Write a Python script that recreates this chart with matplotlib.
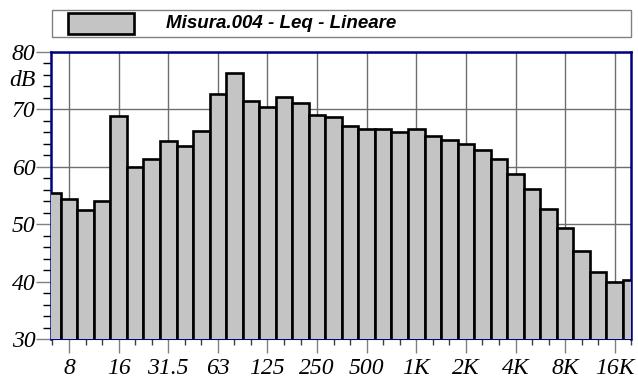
#!/usr/bin/env python3
# -*- coding: utf-8 -*-
import matplotlib
matplotlib.use('Agg') # 디스플레이 없이 파일로 저장합니다.
from matplotlib import pyplot as plt # 그래프 그리기
from matplotlib import font_manager as fm # 글꼴 파일 찾기
from matplotlib.patches import Rectangle # 범례 상자용 사각형
from matplotlib.transforms import blended_transform_factory

# 1/3 옥타브 대역 중심 주파수 (Hz)
BANDS = ['6.3', '8', '10', '12.5', '16', '20', '25', '31.5', '40', '50',
         '63', '80', '100', '125', '160', '200', '250', '315', '400', '500',
         '630', '800', '1K', '1.25K', '1.6K', '2K', '2.5K', '3.15K', '4K', '5K',
         '6.3K', '8K', '10K', '12.5K', '16K', '20K']
# 각 대역의 Leq 값 (dB, 선형)
LEQ = [55.4, 54.4, 52.4, 54.1, 68.8, 60.0, 61.3, 64.5, 63.6, 66.2,
       72.6, 76.3, 71.5, 70.5, 72.1, 71.1, 69.0, 68.6, 67.1, 66.5,
       66.6, 66.1, 66.5, 65.3, 64.6, 63.9, 62.9, 61.3, 58.8, 56.1,
       52.7, 49.3, 45.3, 41.6, 39.9, 40.2]
# 눈금 라벨을 붙일 옥타브 대역
OCTAVE_LABELS = ['8', '16', '31.5', '63', '125', '250', '500', '1K', '2K', '4K', '8K', '16K']
Y_TICKS = [30, 40, 50, 60, 70, 80]
LEGEND_TEXT = 'Misura.004 - Leq - Lineare'

BAR_FILL = '#c4c4c4' # 막대 채움색 (회색 점무늬 느낌)
NAVY = '#000080' # 축 테두리 색
LABEL_SIZE = 17

def find_italic_serif():
    # Times 계열 이탤릭 글꼴 파일을 직접 찾습니다.
    for name in ['Liberation Serif', 'FreeSerif']:
        for f in fm.fontManager.ttflist:
            if f.name == name and f.style == 'italic' and f.weight in (400, 'normal', 'regular'):
                return fm.FontProperties(fname=f.fname, size=LABEL_SIZE)
    return fm.FontProperties(family='serif', style='italic', size=LABEL_SIZE)

tick_font = find_italic_serif()

fig = plt.figure(figsize=(6.38, 3.78), dpi=100)
ax = fig.add_axes([0.0799, 0.1032, 0.9096, 0.7592])

x = list(range(len(BANDS)))
ax.bar(x, LEQ, width=1.0, color=BAR_FILL, edgecolor='black',
       linewidth=1.9, zorder=3)

ax.set_xlim(-0.09, 34.98)
ax.set_ylim(30, 80)

# 옥타브 위치 (주 눈금)와 모든 대역 (보조 눈금)
octave_pos = [BANDS.index(b) for b in OCTAVE_LABELS]
ax.set_xticks(octave_pos)
ax.set_xticks([i for i in x if i not in octave_pos], minor=True)
ax.set_yticks(Y_TICKS)
ax.set_yticks([v for v in range(32, 80, 2) if v % 10 != 0], minor=True)

# 격자: 옥타브 세로선과 10 dB 가로선
ax.grid(True, which='major', color='#6e6e6e', linewidth=1.0, zorder=0)
ax.set_axisbelow(True)

ax.tick_params(axis='x', which='major', length=10, width=1, color='#808080',
               direction='out', pad=4)
ax.tick_params(axis='x', which='minor', length=4.5, width=1, color='#404040',
               direction='out')
ax.tick_params(axis='y', which='major', length=11, width=1, color='#808080',
               direction='out', pad=0)
ax.tick_params(axis='y', which='minor', length=6, width=1, color='black',
               direction='out')

ax.set_xticklabels(OCTAVE_LABELS)
ax.set_yticklabels([str(v) for v in Y_TICKS])

# 'dB' 단위 표시는 75 dB 위치에
trans = blended_transform_factory(ax.transAxes, ax.transData)
db_label = ax.text(-0.026, 75, 'dB', transform=trans, ha='right', va='center')

# 축 테두리
for side in ['left', 'top', 'right']:
    ax.spines[side].set_color(NAVY)
    ax.spines[side].set_linewidth(1.8)
ax.spines['bottom'].set_color(NAVY)
ax.spines['bottom'].set_linewidth(0.8)

# 위쪽 범례 상자
fig.add_artist(Rectangle((0.0815, 0.903), 0.9075, 0.0705, transform=fig.transFigure,
                         facecolor='white', edgecolor='#808080', linewidth=1.0))
fig.add_artist(Rectangle((0.1066, 0.910), 0.1034, 0.0548, transform=fig.transFigure,
                         facecolor=BAR_FILL, edgecolor='black', linewidth=1.9))
fig.text(0.26, 0.9378, LEGEND_TEXT, ha='left', va='center', fontsize=13.5,
         family=['Liberation Sans', 'DejaVu Sans'], weight='bold', style='italic')

# 한 번 그린 뒤 실제 눈금 라벨 객체에 이탤릭 글꼴을 다시 입힙니다.
fig.canvas.draw()
for lab in ax.xaxis.get_ticklabels() + ax.yaxis.get_ticklabels() + [db_label]:
    lab.set_fontproperties(tick_font)

fig.savefig('out.png', dpi=100)
